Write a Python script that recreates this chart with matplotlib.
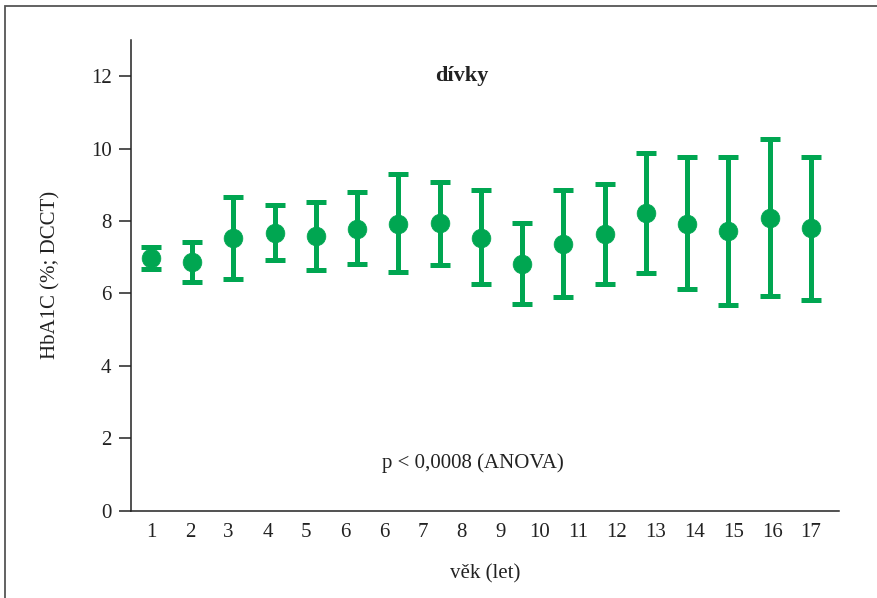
import numpy as np
import matplotlib
matplotlib.use('Agg')
import matplotlib.pyplot as plt
from matplotlib.patches import Rectangle

# Data (HbA1C, girls)
vek = np.arange(1, 18)
prumer = [6.97, 6.86, 7.53, 7.67, 7.58, 7.78, 7.93, 7.94, 7.54, 6.81,
          7.36, 7.64, 8.23, 7.93, 7.73, 8.07, 7.80]
horni = [7.29, 7.41, 8.67, 8.44, 8.52, 8.79, 9.29, 9.09, 8.85, 7.95,
         8.85, 9.01, 9.89, 9.77, 9.78, 10.26, 9.78]
dolni = [6.66, 6.32, 6.39, 6.92, 6.64, 6.80, 6.59, 6.79, 6.25, 5.70,
         5.90, 6.27, 6.55, 6.11, 5.69, 5.92, 5.81]
popisky_x = ['1', '2', '3', '4', '5', '6', '6', '7', '8', '9', '10', '11',
             '12', '13', '14', '15', '16', '17']
popisky_y = [0, 2, 4, 6, 8, 10, 12]

zelena = '#00a651'
plt.rcParams['font.family'] = ['Liberation Serif', 'DejaVu Serif']

fig = plt.figure(figsize=(8.78, 5.98), dpi=100)
ax = fig.add_axes([0.1492, 0.1463, 0.8064, 0.7868])

prumer = np.array(prumer)
err = [prumer - np.array(dolni), np.array(horni) - prumer]
ax.errorbar(vek, prumer, yerr=err, fmt='none', ecolor=zelena,
            elinewidth=3.6, capsize=7.2, capthick=3.6)
ax.plot(vek, prumer, 'o', color=zelena, ms=13.5, mec=zelena, mew=0.5)

ax.set_xlim(0.515, 17.68)
ax.set_ylim(0, 13.0)

for s in ['top', 'right']:
    ax.spines[s].set_visible(False)
for s in ['left', 'bottom']:
    ax.spines[s].set_color('#222222')
    ax.spines[s].set_linewidth(1.1)

ax.set_yticks(popisky_y)
ax.set_yticklabels([str(v) for v in popisky_y], fontsize=15, color='#222222')
ax.tick_params(axis='y', length=9, width=1.1, color='#222222', pad=5)
ax.set_xticks(np.linspace(1, 17, len(popisky_x)))
ax.set_xticklabels(popisky_x, fontsize=15, color='#222222')
ax.tick_params(axis='x', length=0, pad=9)

ax.set_ylabel('HbA1C (%; DCCT)', fontsize=15, color='#222222', labelpad=22)
ax.set_xlabel('věk (let)', fontsize=15, color='#222222', labelpad=16)

ax.text(8.54, 12.0, 'dívky', fontsize=16, fontweight='bold',
        ha='center', va='center', color='#222222')
ax.text(8.8, 1.3, 'p < 0,0008 (ANOVA)', fontsize=15,
        ha='center', va='center', color='#222222')

# outer frame
fig.patches.append(Rectangle((5 / 878, -0.1), 1.2, (598 - 6) / 598 + 0.1,
                             transform=fig.transFigure, fill=False,
                             edgecolor='#555555', linewidth=1.3))

fig.savefig('out.png', dpi=100)
